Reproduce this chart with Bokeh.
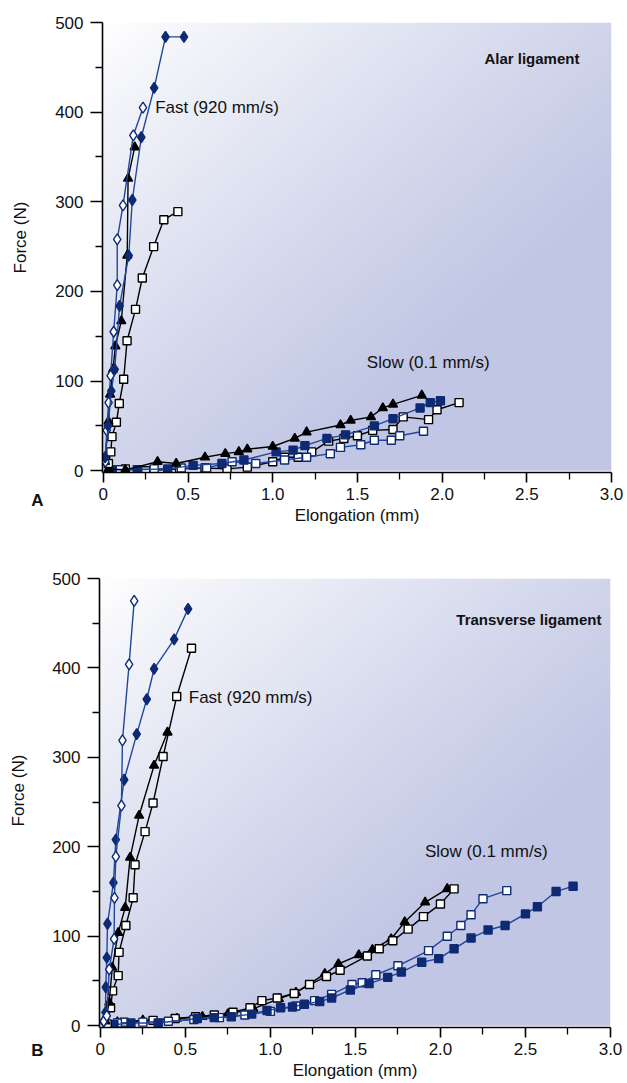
import math
import numpy as np
from bokeh.plotting import figure
from bokeh.layouts import column, row
from bokeh.models import FixedTicker, CustomJSTickFormatter, Label
from bokeh.core.properties import value
from bokeh.embed import file_html
from bokeh.resources import INLINE

# ---------------- data: panel A (alar ligament) ----------------
a_fast_fd_x = [0.01, 0.028, 0.047, 0.067, 0.096, 0.15, 0.171, 0.224, 0.30, 0.367, 0.476]
a_fast_fd_y = [15, 50, 89, 113, 184, 240, 302, 372, 427, 484, 484]
a_fast_od_x = [0.012, 0.02, 0.031, 0.043, 0.061, 0.082, 0.082, 0.116, 0.177, 0.234]
a_fast_od_y = [10, 45, 76, 106, 155, 207, 258, 296, 374, 405]
a_fast_tri_x = [0.01, 0.03, 0.04, 0.057, 0.071, 0.106, 0.141, 0.146, 0.185]
a_fast_tri_y = [10, 55, 85, 113, 139, 167, 240, 326, 361]
a_fast_sq_x = [0.03, 0.044, 0.051, 0.077, 0.094, 0.12, 0.14, 0.19, 0.23, 0.297, 0.357, 0.44]
a_fast_sq_y = [8, 21, 38, 54, 75, 102, 145, 180, 215, 250, 280, 289]

a_slow_tri_x = [0.03, 0.13, 0.32, 0.43, 0.6, 0.72, 0.8, 0.85, 1.0, 1.13, 1.2, 1.4, 1.46, 1.58, 1.65, 1.71, 1.88]
a_slow_tri_y = [2, 1, 10, 8, 15, 19, 21, 24, 27, 36, 43, 51, 56, 60, 70, 74, 84]
a_slow_fsq_x = [0.05, 0.2, 0.38, 0.53, 0.7, 0.83, 1.02, 1.12, 1.19, 1.32, 1.43, 1.6, 1.71, 1.87, 1.93, 1.99]
a_slow_fsq_y = [1, 1, 2, 6, 8, 12, 21, 23, 28, 36, 40, 50, 58, 70, 76, 78]
a_slow_osq_x = [0.06, 0.13, 0.25, 0.45, 0.6, 0.73, 0.85, 1.0, 1.07, 1.15, 1.23, 1.33, 1.42, 1.5, 1.59, 1.71, 1.77, 1.92, 1.97, 2.1]
a_slow_osq_y = [1, 2, 0, 2, 3, 2, 4, 10, 15, 15, 21, 33, 36, 39, 45, 46, 60, 57, 68, 76]
a_slow_bsq_x = [0.1, 0.3, 0.46, 0.61, 0.76, 0.9, 1.07, 1.2, 1.34, 1.4, 1.52, 1.6, 1.7, 1.75, 1.89]
a_slow_bsq_y = [1, 2, 3, 3, 10, 8, 12, 15, 19, 26, 29, 34, 34, 39, 44]

# ---------------- data: panel B (transverse ligament) ----------------
b_fast_od_x = [0.02, 0.038, 0.052, 0.081, 0.083, 0.091, 0.124, 0.130, 0.169, 0.199]
b_fast_od_y = [5, 11, 63, 97, 143, 189, 246, 319, 404, 475]
b_fast_fd_x = [0.02, 0.03, 0.032, 0.038, 0.042, 0.077, 0.091, 0.14, 0.214, 0.273, 0.316, 0.434, 0.516]
b_fast_fd_y = [5, 15, 43, 76, 114, 160, 208, 275, 326, 365, 399, 432, 466]
b_fast_tri_x = [0.03, 0.052, 0.07, 0.105, 0.146, 0.175, 0.228, 0.316, 0.395]
b_fast_tri_y = [5, 26, 65, 104, 132, 188, 235, 291, 328]
b_fast_sq_x = [0.04, 0.06, 0.072, 0.105, 0.11, 0.15, 0.193, 0.204, 0.263, 0.31, 0.369, 0.449, 0.536]
b_fast_sq_y = [2, 20, 39, 56, 82, 112, 143, 180, 217, 249, 301, 368, 422]

b_slow_tri_x = [0.1, 0.25, 0.45, 0.6, 0.75, 0.9, 1.05, 1.15, 1.32, 1.4, 1.52, 1.6, 1.71, 1.79, 1.91, 2.04]
b_slow_tri_y = [4, 6, 8, 10, 13, 19, 30, 37, 58, 69, 79, 85, 97, 116, 138, 153]
b_slow_osq_x = [0.14, 0.31, 0.44, 0.56, 0.67, 0.78, 0.88, 0.95, 1.04, 1.14, 1.23, 1.33, 1.41, 1.57, 1.64, 1.72, 1.81, 1.9, 2.0, 2.08]
b_slow_osq_y = [4, 6, 8, 10, 12, 15, 20, 28, 31, 36, 46, 55, 62, 78, 86, 95, 108, 122, 136, 153]
b_slow_bsq_x = [0.1, 0.25, 0.4, 0.55, 0.7, 0.85, 1.0, 1.15, 1.26, 1.36, 1.48, 1.54, 1.62, 1.75, 1.93, 2.04, 2.12, 2.18, 2.25, 2.39]
b_slow_bsq_y = [3, 4, 5, 7, 9, 12, 16, 22, 28, 35, 46, 48, 57, 67, 84, 100, 112, 124, 142, 151]
b_slow_fsq_x = [0.08, 0.18, 0.34, 0.57, 0.67, 0.77, 0.89, 0.98, 1.06, 1.13, 1.2, 1.29, 1.36, 1.47, 1.58, 1.69, 1.77, 1.89, 1.99, 2.08, 2.18, 2.28, 2.38, 2.5, 2.57, 2.68, 2.78]
b_slow_fsq_y = [1, 3, 3, 8, 9, 10, 13, 17, 20, 21, 24, 27, 31, 40, 47, 54, 60, 71, 75, 86, 98, 107, 112, 125, 133, 150, 156]

x_ticks = [0, 0.5, 1.0, 1.5, 2.0, 2.5, 3.0]
x_minor = [0.25, 0.75, 1.25, 1.75, 2.25, 2.75]
y_ticks = [0, 100, 200, 300, 400, 500]
y_minor = [50, 150, 250, 350, 450]

FONT = "Liberation Sans"
NAVY = "#0f2a74"
BLUE_LINE = "#22479a"
TXT = "#111111"


def gradient():
    ny, nx = 120, 180
    u = np.linspace(0, 1, nx)[None, :]
    d = 1 - np.linspace(0, 1, ny)[:, None]
    t = np.clip((u + d) / 1.4, 0, 1) ** 0.9
    c0 = np.array([255, 255, 255])
    c1 = np.array([192, 198, 228])
    img = np.empty((ny, nx), dtype=np.uint32)
    view = img.view(dtype=np.uint8).reshape((ny, nx, 4))
    for k in range(3):
        view[:, :, k] = (c0[k] + (c1[k] - c0[k]) * t).astype(np.uint8)
    view[:, :, 3] = 255
    return img


def make_fig(width, height, bl, br, bt, bb):
    p = figure(width=width, height=height, x_range=(-0.005, 3.0), y_range=(-2, 500),
               output_backend="svg", toolbar_location=None,
               min_border_left=bl, min_border_right=br, min_border_top=bt, min_border_bottom=bb)
    p.image_rgba(image=[gradient()], x=0, y=0, dw=3.0, dh=500)
    p.grid.visible = False
    p.outline_line_color = None
    p.xaxis.ticker = FixedTicker(ticks=x_ticks, minor_ticks=x_minor)
    p.yaxis.ticker = FixedTicker(ticks=y_ticks, minor_ticks=y_minor)
    p.xaxis.formatter = CustomJSTickFormatter(code="return tick == 0 ? '0' : tick.toFixed(1);")
    for ax in (p.xaxis[0], p.yaxis[0]):
        ax.axis_line_width = 1.6
        ax.axis_line_color = "black"
        ax.major_tick_in = 0
        ax.minor_tick_in = 0
        ax.major_tick_line_width = 1.6
        ax.minor_tick_line_width = 1.3
        ax.major_label_text_font = FONT
        ax.major_label_text_font_size = "17px"
        ax.major_label_text_color = TXT
        ax.axis_label_text_font = FONT
        ax.axis_label_text_font_size = "17px"
        ax.axis_label_text_font_style = "normal"
        ax.axis_label_text_color = TXT
    p.xaxis.major_tick_out = 10
    p.xaxis.minor_tick_out = 7
    p.xaxis.major_label_standoff = 5
    p.xaxis.axis_label = "Elongation (mm)"
    p.xaxis.axis_label_standoff = 3
    p.yaxis.major_tick_out = 12
    p.yaxis.minor_tick_out = 7
    p.yaxis.major_label_standoff = 7
    return p


def side(width, height, force_x, force_y, letter, letter_x, letter_y):
    s = figure(width=width, height=height, x_range=(0, width), y_range=(0, height),
               output_backend="svg", toolbar_location=None, frame_align=False,
               x_axis_location=None, y_axis_location=None, min_border=0)
    s.grid.visible = False
    s.outline_line_color = None
    s.text(x=[force_x], y=[force_y], text=["Force (N)"], angle=[math.pi / 2],
           text_font=value(FONT), text_font_size="17px", text_color=TXT,
           text_align="center", text_baseline="middle")
    s.text(x=[letter_x], y=[letter_y], text=[letter], text_font=value(FONT),
           text_font_size="17px", text_font_style="bold", text_color=TXT,
           text_align="center", text_baseline="middle")
    return s


def series(p, xs, ys, marker, line_color, fill, edge, size):
    p.line(xs, ys, line_color=line_color, line_width=1.4)
    p.scatter(xs, ys, marker=marker, size=size, fill_color=fill, line_color=edge, line_width=1.4)


def label(p, x, y, text, align="left", bold=False, size="17px"):
    p.add_layout(Label(x=x, y=y, text=text, text_font=FONT, text_font_size=size,
                       text_font_style="bold" if bold else "normal", text_color=TXT,
                       text_align=align, text_baseline="middle"))


SIDE_W = 45

# ---------------- panel A ----------------
HA = 535
pa = make_fig(627 - SIDE_W, HA, 102 - SIDE_W, 16, 22, 63)
series(pa, a_slow_osq_x, a_slow_osq_y, "square", "black", "white", "black", 8)
series(pa, a_slow_bsq_x, a_slow_bsq_y, "square", BLUE_LINE, "white", NAVY, 8)
series(pa, a_slow_fsq_x, a_slow_fsq_y, "square", BLUE_LINE, NAVY, NAVY, 8)
series(pa, a_slow_tri_x, a_slow_tri_y, "triangle", "black", "black", "black", 9)
series(pa, a_fast_sq_x, a_fast_sq_y, "square", "black", "white", "black", 8)
series(pa, a_fast_tri_x, a_fast_tri_y, "triangle", "black", "black", "black", 9)
series(pa, a_fast_od_x, a_fast_od_y, "diamond", BLUE_LINE, "white", NAVY, 11)
series(pa, a_fast_fd_x, a_fast_fd_y, "diamond", BLUE_LINE, NAVY, NAVY, 11)
label(pa, 0.306, 405, "Fast (920 mm/s)")
label(pa, 1.918, 121, "Slow (0.1 mm/s)", align="center")
label(pa, 2.53, 460, "Alar ligament", align="center", bold=True, size="15px")
sa = side(SIDE_W, HA, 20, HA - 237, "A", 37, HA - 500)

# ---------------- panel B ----------------
HB = 548
pb = make_fig(627 - SIDE_W, HB, 99 - SIDE_W, 17, 43, 56)
series(pb, b_slow_tri_x, b_slow_tri_y, "triangle", "black", "black", "black", 9)
series(pb, b_slow_osq_x, b_slow_osq_y, "square", "black", "white", "black", 8)
series(pb, b_slow_bsq_x, b_slow_bsq_y, "square", BLUE_LINE, "white", NAVY, 8)
series(pb, b_slow_fsq_x, b_slow_fsq_y, "square", BLUE_LINE, NAVY, NAVY, 8)
series(pb, b_fast_sq_x, b_fast_sq_y, "square", "black", "white", "black", 8)
series(pb, b_fast_tri_x, b_fast_tri_y, "triangle", "black", "black", "black", 9)
series(pb, b_fast_fd_x, b_fast_fd_y, "diamond", BLUE_LINE, NAVY, NAVY, 11)
series(pb, b_fast_od_x, b_fast_od_y, "diamond", BLUE_LINE, "white", NAVY, 11)
label(pb, 0.52, 367, "Fast (920 mm/s)")
label(pb, 2.27, 195, "Slow (0.1 mm/s)", align="center")
label(pb, 2.52, 454, "Transverse ligament", align="center", bold=True, size="15px")
sb = side(SIDE_W, HB, 18, HB - (790 - HA), "B", 37, HB - (1050 - HA))

layout = column(row(sa, pa, spacing=0), row(sb, pb, spacing=0), spacing=0)
open("out.html", "w").write(file_html(layout, INLINE))
